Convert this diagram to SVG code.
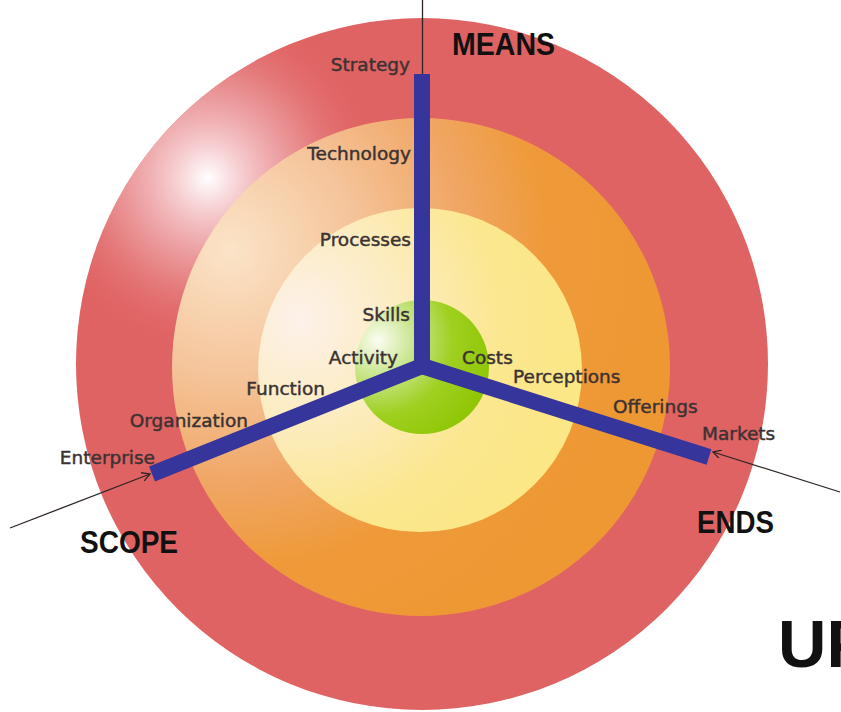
<svg xmlns="http://www.w3.org/2000/svg" width="841" height="712" viewBox="0 0 841 712">
<style>
.lbl{font-family:"DejaVu Sans","Liberation Sans",sans-serif;font-size:18.5px;fill:#3b3232;stroke:#3b3232;stroke-width:0.45}
.big{font-family:"Liberation Sans","DejaVu Sans",sans-serif;font-weight:bold;fill:#111111}
.axis{stroke:#2e2424;stroke-width:1.3;fill:none}
.bar{stroke:#35359b;stroke-width:16;fill:none;stroke-linejoin:miter;stroke-linecap:butt}
</style>
<defs>
<radialGradient id="gGlow" gradientUnits="userSpaceOnUse" cx="208" cy="178" r="175">
<stop offset="0" stop-color="#ffffff" stop-opacity="1"/>
<stop offset="0.2" stop-color="#fbe6ea" stop-opacity="0.8"/>
<stop offset="0.55" stop-color="#f5c8cc" stop-opacity="0.4"/>
<stop offset="1" stop-color="#e06363" stop-opacity="0"/>
</radialGradient>
<radialGradient id="gOrange" gradientUnits="userSpaceOnUse" cx="230" cy="250" r="420">
<stop offset="0" stop-color="#fbe4c8"/>
<stop offset="0.3" stop-color="#f5c49a"/>
<stop offset="0.55" stop-color="#f0a766"/>
<stop offset="0.75" stop-color="#ef9a3a"/>
<stop offset="1" stop-color="#ee9834"/>
</radialGradient>
<radialGradient id="gYellow" gradientUnits="userSpaceOnUse" cx="300" cy="320" r="290">
<stop offset="0" stop-color="#fdf1ea"/>
<stop offset="0.35" stop-color="#fcecc0"/>
<stop offset="0.7" stop-color="#fbe78e"/>
<stop offset="1" stop-color="#fbe785"/>
</radialGradient>
<radialGradient id="gGreen" gradientUnits="userSpaceOnUse" cx="378" cy="340" r="125">
<stop offset="0" stop-color="#fbfdf2"/>
<stop offset="0.25" stop-color="#cfe89a"/>
<stop offset="0.6" stop-color="#9fd020"/>
<stop offset="1" stop-color="#8cc400"/>
</radialGradient>
<marker id="chev" viewBox="0 0 10 10" refX="9" refY="5" markerWidth="9" markerHeight="9" markerUnits="userSpaceOnUse" orient="auto">
<path d="M0,0 L9,5 L0,10" fill="none" stroke="#2e2424" stroke-width="1.4"/>
</marker>
</defs>

<g id="ring-red">
<circle cx="422" cy="364" r="346" fill="#e06363"/>
<circle cx="422" cy="364" r="346" fill="url(#gGlow)"/>
</g>
<g id="ring-orange">
<circle cx="421" cy="367" r="249" fill="url(#gOrange)"/>
</g>
<g id="ring-yellow">
<circle cx="420" cy="370" r="162" fill="url(#gYellow)"/>
</g>
<g id="core-green">
<circle cx="422" cy="367" r="67" fill="url(#gGreen)"/>
</g>

<g id="connectors">
<line class="axis" x1="422.5" y1="0" x2="422.5" y2="80"/>
<line class="axis" x1="10" y1="528" x2="150" y2="474" marker-end="url(#chev)"/>
<line class="axis" x1="840" y1="492" x2="713" y2="452" marker-end="url(#chev)"/>
<polyline class="bar" points="422,74 422,366 152,474"/>
<polyline class="bar" points="422,366 709,457"/>
</g>

<g id="labels-means">
<text class="lbl" x="410" y="71" text-anchor="end">Strategy</text>
<text class="lbl" x="411" y="160" text-anchor="end">Technology</text>
<text class="lbl" x="411" y="246" text-anchor="end">Processes</text>
<text class="lbl" x="410" y="321" text-anchor="end">Skills</text>
</g>
<g id="labels-scope">
<text class="lbl" x="398" y="364" text-anchor="end">Activity</text>
<text class="lbl" x="325" y="395" text-anchor="end">Function</text>
<text class="lbl" x="248" y="427" text-anchor="end">Organization</text>
<text class="lbl" x="155" y="464" text-anchor="end">Enterprise</text>
</g>
<g id="labels-ends">
<text class="lbl" x="462" y="364">Costs</text>
<text class="lbl" x="513" y="383">Perceptions</text>
<text class="lbl" x="613" y="413">Offerings</text>
<text class="lbl" x="702" y="440">Markets</text>
</g>

<g id="titles">
<text class="big" x="452" y="55" font-size="31" textLength="103" lengthAdjust="spacingAndGlyphs">MEANS</text>
<text class="big" x="80" y="553" font-size="31" textLength="98" lengthAdjust="spacingAndGlyphs">SCOPE</text>
<text class="big" x="697" y="533" font-size="31" textLength="77" lengthAdjust="spacingAndGlyphs">ENDS</text>
<text class="big" x="778" y="667" font-size="67">UP</text>
</g>
</svg>
